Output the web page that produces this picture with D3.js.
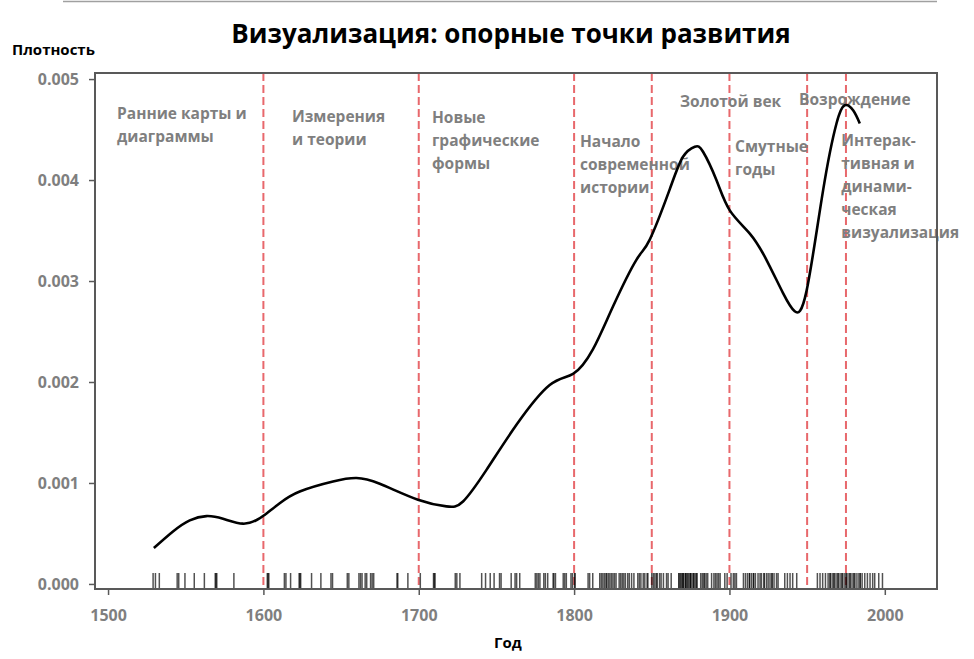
<!DOCTYPE html>
<html>
<head>
<meta charset="utf-8">
<script src="https://cdn.jsdelivr.net/npm/d3@7"></script>
<style>
  body { margin: 0; background: #fff; }
  text { font-family: "Open Sans", sans-serif; }
</style>
</head>
<body>
<div id="chart"></div>
<script>
// Density curve (year, density)
const curveYears = [1529.5, 1541.8, 1552.6, 1563.3, 1574, 1586.9, 1595.5, 1600, 1610.5, 1623.4,
  1644.8, 1659.9, 1674.9, 1699.5, 1717.8, 1728.5, 1743.6, 1762.9, 1784.3, 1799.3,
  1812, 1825.1, 1840.1, 1848.7, 1861.6, 1870.1, 1877.7, 1883, 1891.6, 1900.2,
  1913.1, 1923.8, 1934.5, 1942, 1949.6, 1960.3, 1968.9, 1974.2, 1979.6, 1983.9];
const curveDensity = [0.000356, 0.00052, 0.00063, 0.000672, 0.000646, 0.000597, 0.000632, 0.000675, 0.0008, 0.000916,
  0.001015, 0.001049, 0.000992, 0.000834, 0.000768, 0.000817, 0.00113, 0.001576, 0.00197, 0.00208,
  0.00232, 0.00275, 0.00321, 0.00341, 0.00391, 0.00423, 0.00433, 0.00428, 0.0040, 0.0037,
  0.00347, 0.00321, 0.00288, 0.0027, 0.00290, 0.0039, 0.00456, 0.00474, 0.00469, 0.00456];

// Milestone years (rug)
const eventYears = [
  1529, 1530.5, 1533, 1544.5, 1545.5, 1549.5, 1555.5, 1562, 1569, 1569.5, 1570, 1581,
  1602.5, 1603, 1603.5, 1613.5, 1614.5, 1617.5, 1623, 1623.5, 1624, 1631, 1637, 1643.5, 1644.5,
  1654, 1655, 1661.5, 1662.5, 1663.5, 1665.5, 1666.5, 1669, 1670, 1671, 1686, 1686.5, 1693, 1701,
  1709.5, 1710, 1710.5, 1723.5, 1724.5, 1726.5, 1740.5, 1743, 1746, 1748.5, 1752, 1753, 1759.5,
  1762, 1763, 1765,
  1775, 1776, 1777, 1778, 1780.5, 1781.5, 1783, 1786.5, 1787, 1788, 1793, 1794, 1795, 1798, 1799,
  1800.5, 1800.5, 1809, 1810, 1812,
  1816.5, 1817.5, 1818.5, 1819.5, 1820.5, 1821, 1822, 1823, 1824, 1825, 1826, 1827, 1829, 1830,
  1831, 1832, 1833, 1834.5, 1835.5, 1837, 1838.5,
  1841, 1842, 1843, 1844.5, 1845.5, 1847, 1847.5, 1850, 1851, 1852, 1853, 1853.5, 1855, 1856,
  1857.5, 1859.5, 1860.5, 1862.5,
  1867.5, 1867.5, 1868.5, 1869, 1870, 1870, 1870.5, 1871.5, 1872, 1872, 1873, 1873.5, 1874.5,
  1875, 1875, 1876, 1877, 1877, 1878, 1879, 1879, 1881.5, 1882.5, 1883.5, 1884, 1885, 1886,
  1888.5, 1890, 1891, 1892, 1893, 1894, 1897, 1898.5,
  1901, 1902.5, 1903.5, 1904.5,
  1909, 1910.3, 1911.6, 1912.9, 1912.9, 1914.2, 1915.5, 1915.5, 1916.7, 1918.4, 1919.7, 1920.6,
  1922.3, 1922.3, 1923.8, 1924.9, 1926.1, 1927.4, 1927.4, 1928.7, 1930.3, 1931.3,
  1935.6, 1937.3, 1939, 1940.7, 1943.3,
  1956.6, 1958.3, 1960, 1961.8, 1963.5, 1964.8, 1964.8, 1966.1, 1967.3, 1967.3, 1968.6, 1969.9,
  1969.9, 1971.2, 1972.5, 1972.5, 1973.8, 1975.1, 1975.1, 1976.3, 1977.6, 1977.6, 1978.9, 1980.2,
  1980.2, 1981.5, 1982.8, 1984.1, 1984.1, 1985.4, 1987.1, 1988.8, 1990.5, 1992.2, 1993.5,
  1996.1, 1998.5
];

// Period boundaries and period names
const periodBreaks = [1600, 1700, 1800, 1850, 1900, 1950, 1975];
const periodNames = [
  ["Ранние карты и", "диаграммы"],
  ["Измерения", "и теории"],
  ["Новые", "графические", "формы"],
  ["Начало", "современной", "истории"],
  ["Золотой век"],
  ["Смутные", "годы"],
  ["Возрождение"],
  ["Интерак-", "тивная и", "динами-", "ческая", "визуализация"]
];

const xTicks = [1500, 1600, 1700, 1800, 1900, 2000];
const yTicks = [0, 0.001, 0.002, 0.003, 0.004, 0.005];

const width = 974;
const height = 659;
const plot = {left: 95, right: 937, top: 73, bottom: 589};
const grey = "#7f7f7f";
const axisColor = "#595959";

const svg = d3.select("#chart")
  .append("svg")
    .attr("width", width)
    .attr("height", height);

// Scales
const xScale = d3.scaleLinear()
  .domain([1491.6, 2033.6])
  .range([plot.left, plot.right]);
const yScale = d3.scaleLinear()
  .domain([-0.00005, 0.00506])
  .range([plot.bottom, plot.top]);

// thin rule at the very top
svg.append("line")
  .attr("x1", 63).attr("x2", plot.right)
  .attr("y1", 1.5).attr("y2", 1.5)
  .attr("stroke", "#a0a0a0")
  .attr("stroke-width", 1.5);

// Title
svg.append("text")
  .attr("x", 511)
  .attr("y", 43)
  .attr("text-anchor", "middle")
  .style("font-size", "26px")
  .style("font-weight", 700)
  .attr("fill", "#000")
  .text("Визуализация: опорные точки развития");

// Axis titles
svg.append("text")
  .attr("x", 12).attr("y", 55)
  .style("font-size", "15px")
  .style("font-weight", 700)
  .text("Плотность");
svg.append("text")
  .attr("x", 494).attr("y", 648)
  .style("font-size", "15px")
  .style("font-weight", 700)
  .text("Год");

// Period boundaries
svg.append("g")
  .selectAll("line")
  .data(periodBreaks)
  .join("line")
    .attr("x1", d => xScale(d)).attr("x2", d => xScale(d))
    .attr("y1", plot.top).attr("y2", plot.bottom)
    .attr("stroke", "#e8686c")
    .attr("stroke-width", 2)
    .attr("stroke-dasharray", "8,4");

// Period names (anchor year of the text's left edge, first baseline in px)
const labelLayout = [
  [1505.8, 119], [1618.4, 122], [1708.5, 123], [1803.8, 147],
  [1868.2, 107], [1903.6, 152], [1944.8, 105], [1972, 146]
];
const labels = svg.append("g")
  .attr("fill", grey)
  .style("font-size", "15.5px")
  .style("font-weight", 700);
periodNames.forEach((lines, i) => {
  const t = labels.append("text")
    .attr("x", xScale(labelLayout[i][0]))
    .attr("y", labelLayout[i][1]);
  lines.forEach((s, j) => {
    t.append("tspan")
      .attr("x", xScale(labelLayout[i][0]))
      .attr("dy", j === 0 ? 0 : 23)
      .text(s);
  });
});

// Rug of events
svg.append("g")
  .selectAll("line")
  .data(eventYears)
  .join("line")
    .attr("x1", d => xScale(d)).attr("x2", d => xScale(d))
    .attr("y1", plot.bottom).attr("y2", plot.bottom - 16)
    .attr("stroke", "#000")
    .attr("stroke-opacity", 0.68)
    .attr("stroke-width", 1.5);

// Density curve
const line = d3.line()
  .x(d => xScale(d[0]))
  .y(d => yScale(d[1]))
  .curve(d3.curveNatural);
svg.append("path")
  .datum(d3.zip(curveYears, curveDensity))
  .attr("fill", "none")
  .attr("stroke", "#000")
  .attr("stroke-width", 2.6)
  .attr("d", line);

// Frame
svg.append("rect")
  .attr("x", plot.left).attr("y", plot.top)
  .attr("width", plot.right - plot.left)
  .attr("height", plot.bottom - plot.top)
  .attr("fill", "none")
  .attr("stroke", axisColor)
  .attr("stroke-width", 2);

// Axes
const xAxis = svg.append("g")
  .attr("transform", `translate(0, ${plot.bottom})`)
  .call(d3.axisBottom(xScale).tickValues(xTicks).tickFormat(d3.format("d")).tickSize(6).tickSizeOuter(0));
const yAxis = svg.append("g")
  .attr("transform", `translate(${plot.left}, 0)`)
  .call(d3.axisLeft(yScale).tickValues(yTicks).tickFormat(d3.format(".3f")).tickSize(6).tickSizeOuter(0));

[xAxis, yAxis].forEach(g => {
  g.select(".domain").remove();
  g.selectAll(".tick line").attr("stroke", axisColor).attr("stroke-width", 1.5);
  g.selectAll(".tick text")
    .attr("fill", grey)
    .style("font-family", "'Open Sans', sans-serif")
    .style("font-weight", 700)
    .style("font-size", "16px");
});
xAxis.selectAll(".tick text").attr("dy", 0).attr("y", 32);
yAxis.selectAll(".tick text").attr("x", -16).attr("dy", "0.35em");
</script>
</body>
</html>
